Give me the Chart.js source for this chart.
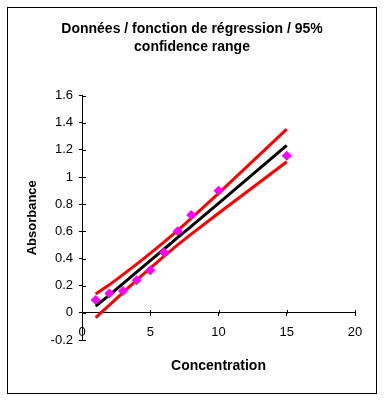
<!DOCTYPE html>
<html>
<head>
<meta charset="utf-8">
<script src="https://cdn.jsdelivr.net/npm/chart.js@4"></script>
<style>
html,body{margin:0;padding:0;background:#fff;}
#wrap{position:relative;width:384px;height:400px;}
</style>
</head>
<body>
<div id="wrap"><canvas id="c"></canvas></div>
<script>
// ---- chart text ----
const titleLines = ['Données / fonction de régression / 95%', 'confidence range'];
const xAxisTitle = 'Concentration';
const yAxisTitle = 'Absorbance';

// ---- data ----
const concentration = [1, 2, 3, 4, 5, 6, 7, 8, 10, 15];
const absorbance    = [0.094, 0.143, 0.160, 0.240, 0.314, 0.445, 0.600, 0.720, 0.898, 1.156];
const regressionFit = [0.049, 0.131, 0.215, 0.300, 0.384, 0.468, 0.553, 0.637, 0.806, 1.233];
const upperBound    = [0.138, 0.206, 0.281, 0.359, 0.438, 0.520, 0.606, 0.695, 0.879, 1.353];
const lowerBound    = [-0.036, 0.056, 0.149, 0.241, 0.330, 0.416, 0.500, 0.579, 0.733, 1.112];

// ---- ticks ----
const xTicks = [0, 5, 10, 15, 20];
const xTickLabels = ['0', '5', '10', '15', '20'];
const yTicks = [-0.2, 0, 0.2, 0.4, 0.6, 0.8, 1, 1.2, 1.4, 1.6];
const yTickLabels = ['-0.2', '0', '0.2', '0.4', '0.6', '0.8', '1', '1.2', '1.4', '1.6'];

const toPoints = ys => concentration.map((x, i) => ({x: x, y: ys[i]}));
const labelFor = (vals, labels, v) => {
  const i = vals.findIndex(t => Math.abs(t - v) < 1e-9);
  return i >= 0 ? labels[i] : '';
};

Chart.defaults.font.family = '"Liberation Sans", Arial, sans-serif';
Chart.defaults.color = '#000';

const framePlugin = {
  id: 'frame',
  beforeDraw(chart) {
    const ctx = chart.ctx;
    ctx.save();
    ctx.fillStyle = '#fff';
    ctx.fillRect(0, 0, chart.width, chart.height);
    ctx.restore();
  },
  afterDraw(chart) {
    const ctx = chart.ctx;
    ctx.save();
    ctx.strokeStyle = '#000';
    ctx.lineWidth = 1;
    ctx.strokeRect(7.5, 7.5, 369, 386);
    ctx.restore();
  }
};

// inner halves of the Excel-style crossing tick marks
const crossTicksPlugin = {
  id: 'crossTicks',
  afterDraw(chart) {
    const ctx = chart.ctx;
    const xs = chart.scales.x, ys = chart.scales.y;
    const y0 = Math.round(ys.getPixelForValue(0)) + 0.5;
    const x0 = Math.round(xs.getPixelForValue(0)) + 0.5;
    ctx.save();
    ctx.strokeStyle = '#000';
    ctx.lineWidth = 1;
    ctx.beginPath();
    xTicks.forEach(v => {
      const px = Math.round(xs.getPixelForValue(v)) + 0.5;
      ctx.moveTo(px, y0);
      ctx.lineTo(px, y0 - 3.5);
    });
    yTicks.forEach(v => {
      const py = Math.round(ys.getPixelForValue(v)) + 0.5;
      ctx.moveTo(x0, py);
      ctx.lineTo(x0 + 3.5, py);
    });
    ctx.stroke();
    ctx.restore();
  }
};

new Chart(document.getElementById('c'), {
  type: 'scatter',
  data: {
    datasets: [
      {
        label: 'Données',
        data: toPoints(absorbance),
        showLine: false,
        pointStyle: 'rectRot',
        pointRadius: 5,
        pointBorderWidth: 0,
        backgroundColor: '#FF00FF',
        borderColor: '#FF00FF'
      },
      {
        label: 'Régression',
        data: toPoints(regressionFit),
        showLine: true,
        borderColor: '#000000',
        borderWidth: 3,
        pointRadius: 0,
        tension: 0
      },
      {
        label: 'Upper 95%',
        data: toPoints(upperBound),
        showLine: true,
        borderColor: '#FF0000',
        borderWidth: 3,
        pointRadius: 0,
        tension: 0
      },
      {
        label: 'Lower 95%',
        data: toPoints(lowerBound),
        showLine: true,
        borderColor: '#FF0000',
        borderWidth: 3,
        pointRadius: 0,
        tension: 0
      }
    ]
  },
  options: {
    responsive: true,
    maintainAspectRatio: false,
    animation: false,
    events: [],
    layout: {padding: {left: 29, right: 29, top: 0, bottom: 60}},
    plugins: {
      legend: {display: false},
      tooltip: {enabled: false},
      title: {
        display: true,
        text: titleLines,
        color: '#000',
        font: {size: 14, weight: 'bold', lineHeight: '18.5px'},
        padding: {top: 19.75, bottom: 38.75}
      }
    },
    scales: {
      x: {
        type: 'linear',
        position: {y: 0},
        min: 0,
        max: 20,
        afterBuildTicks: s => { s.ticks = xTicks.map(v => ({value: v})); },
        ticks: {
          autoSkip: false,
          maxRotation: 0,
          padding: 9,
          font: {size: 13},
          color: '#000',
          callback: v => labelFor(xTicks, xTickLabels, v)
        },
        grid: {drawOnChartArea: false, drawTicks: true, tickLength: 3, color: '#000'},
        border: {display: true, color: '#000', width: 1},
        title: {
          display: true,
          text: xAxisTitle,
          color: '#000',
          font: {size: 14, weight: 'bold'},
          padding: {top: 8.7, bottom: 0}
        }
      },
      y: {
        type: 'linear',
        position: 'left',
        min: -0.2,
        max: 1.6,
        afterBuildTicks: s => { s.ticks = yTicks.map(v => ({value: v})); },
        afterFit: s => { s.width = 53; },
        ticks: {
          autoSkip: false,
          padding: 6,
          font: {size: 13},
          color: '#000',
          callback: v => labelFor(yTicks, yTickLabels, v)
        },
        grid: {drawOnChartArea: false, drawTicks: true, tickLength: 3, color: '#000'},
        border: {display: true, color: '#000', width: 1},
        title: {
          display: true,
          text: yAxisTitle,
          color: '#000',
          font: {size: 13, weight: 'bold'},
          padding: {top: -4.5, bottom: 0}
        }
      }
    }
  },
  plugins: [framePlugin, crossTicksPlugin]
});
</script>
</body>
</html>
